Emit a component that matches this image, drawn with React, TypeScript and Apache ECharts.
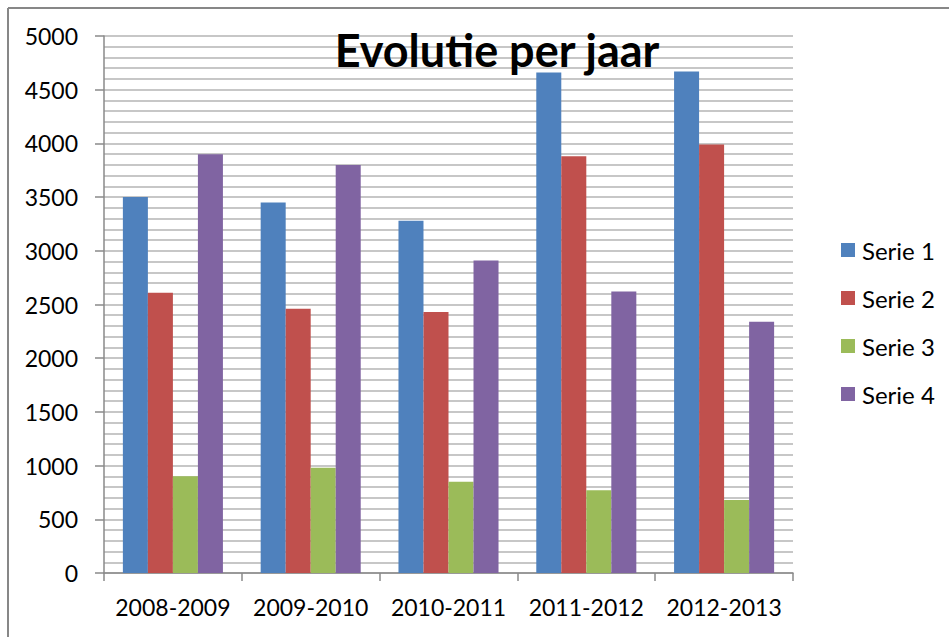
import React, { useEffect, useRef } from "react";
import * as echarts from "echarts";

const categories = ["2008-2009", "2009-2010", "2010-2011", "2011-2012", "2012-2013"];
const serie1 = [3500, 3450, 3280, 4660, 4670];
const serie2 = [2610, 2460, 2430, 3880, 3990];
const serie3 = [900, 980, 850, 770, 680];
const serie4 = [3900, 3800, 2910, 2620, 2340];
const seriesNames = ["Serie 1", "Serie 2", "Serie 3", "Serie 4"];
const seriesData = [serie1, serie2, serie3, serie4];
const colors = ["#4F81BD", "#C0504D", "#9BBB59", "#8064A2"];

const FONT = "Lato";

export default function App() {
  const ref = useRef<HTMLDivElement>(null);
  useEffect(() => {
    document.body.style.margin = "0";
    const chart = echarts.init(ref.current!, null, { renderer: "svg" });
    chart.setOption({
      animation: false,
      backgroundColor: "#ffffff",
      title: {
        text: "Evolutie per jaar",
        left: 492,
        top: 22,
        textAlign: "center",
        textStyle: { fontFamily: FONT, fontWeight: "bold", fontSize: 45, color: "#000" },
      },
      legend: {
        orient: "vertical",
        left: 836,
        top: 233,
        itemWidth: 14,
        itemHeight: 14,
        itemGap: 24,
        icon: "rect",
        textStyle: { fontFamily: FONT, fontSize: 24, color: "#000", padding: [0, 0, 0, 2] },
        data: seriesNames,
      },
      grid: { left: 104, right: 156, top: 36, bottom: 64, containLabel: false },
      xAxis: {
        type: "category",
        data: categories,
        boundaryGap: true,
        axisLine: { show: true, lineStyle: { color: "#8a8a8a", width: 1.5 } },
        axisTick: { show: true, length: 8, lineStyle: { color: "#8a8a8a", width: 1.5 } },
        axisLabel: { fontFamily: FONT, fontSize: 23, color: "#000", margin: 22, interval: 0 },
        splitLine: { show: false },
      },
      yAxis: {
        type: "value",
        min: 0,
        max: 5000,
        interval: 500,
        axisLine: { show: true, lineStyle: { color: "#8a8a8a", width: 1.5 } },
        axisTick: { show: true, length: 9, lineStyle: { color: "#8a8a8a", width: 1.5 } },
        axisLabel: { fontFamily: FONT, fontSize: 23, color: "#000", margin: 26, formatter: (v: number) => String(v) },
        splitLine: { show: true, lineStyle: { color: "#b4b4b4", width: 1.5 } },
        minorTick: { show: false, splitNumber: 5 },
        minorSplitLine: { show: true, lineStyle: { color: "#b4b4b4", width: 1.5 } },
      },
      series: seriesNames.map((name, i) => ({
        name,
        type: "bar",
        data: seriesData[i],
        barGap: "0%",
        barCategoryGap: "27.4%",
        itemStyle: { color: colors[i] },
      })),
      graphic: [
        { type: "line", shape: { x1: 8, y1: 8, x2: 949, y2: 8 }, style: { stroke: "#878787", lineWidth: 2 } },
        { type: "line", shape: { x1: 8, y1: 8, x2: 8, y2: 637 }, style: { stroke: "#878787", lineWidth: 2 } },
      ],
    });
    return () => chart.dispose();
  }, []);
  return <div ref={ref} style={{ width: 949, height: 637 }} />;
}
